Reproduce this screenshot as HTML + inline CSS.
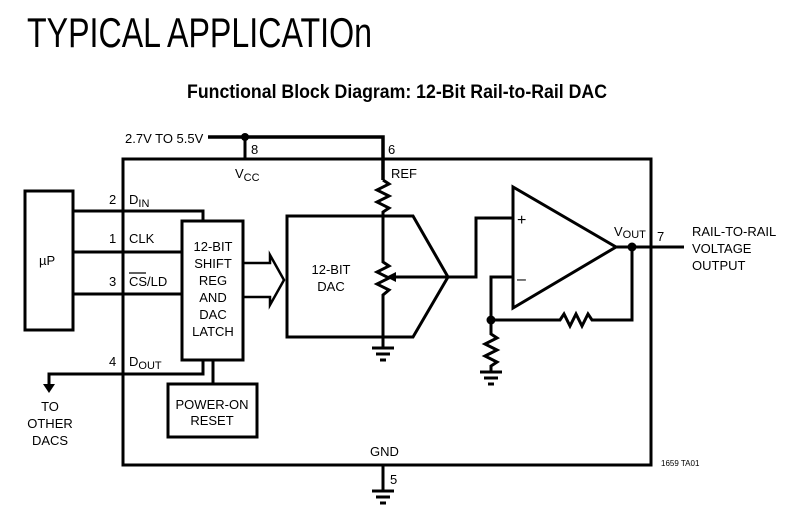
<!DOCTYPE html>
<html><head><style>
html,body{margin:0;padding:0;background:#fff;}
svg{display:block;}
text{font-family:"Liberation Sans",sans-serif;fill:#000;}
</style></head><body>
<svg width="787" height="526" viewBox="0 0 787 526" xmlns="http://www.w3.org/2000/svg">
<text x="27" y="47" font-size="42" textLength="345" lengthAdjust="spacingAndGlyphs">TYPICAL APPLICATIOn</text>
<text x="187" y="98" font-size="19" font-weight="bold" textLength="420" lengthAdjust="spacingAndGlyphs">Functional Block Diagram: 12-Bit Rail-to-Rail DAC</text>
<g stroke="#000" stroke-width="3" fill="none">
<rect x="123" y="159" width="528" height="306"/>
<polyline points="208,137 383,137 383,180" stroke-width="3.5"/>
<line x1="245" y1="137" x2="245" y2="159"/>
<rect x="25" y="191" width="48" height="139"/>
<polyline points="73,211 203,211 203,221"/>
<line x1="73" y1="252" x2="182" y2="252"/>
<line x1="73" y1="294" x2="182" y2="294"/>
<rect x="182" y="221" width="61" height="139"/>
<polyline points="203,360 203,374 49,374 49,384"/>
<line x1="213" y1="360" x2="213" y2="384"/>
<rect x="168" y="384" width="89" height="53"/>
<polyline points="243,263 270,263 270,255 284,280 270,305 270,297 243,297" stroke-width="2.5"/>
<polygon points="287,216 413,216 448,277 413,337 287,337"/>
<polyline points="383,180 389,184 377,190 389,196 377,202 389,208 383,212 383,262 389,266 377,272 389,278 377,284 389,290 383,295 383,348"/>
<line x1="372" y1="348" x2="394" y2="348"/>
<line x1="376" y1="354" x2="390" y2="354"/>
<line x1="380" y1="360" x2="386" y2="360"/>
<line x1="448" y1="277" x2="395" y2="277"/>
<polygon points="513,187 513,308 616,247"/>
<polyline points="448,277 476,277 476,218 513,218"/>
<polyline points="513,277 491,277 491,320 560,320 564,314 570,326 576,314 582,326 588,314 592,320 632,320 632,247"/>
<line x1="616" y1="247" x2="684" y2="247"/>
<polyline points="491,320 491,334 497,338 485,344 497,350 485,356 497,362 491,366 491,372"/>
<line x1="480" y1="372" x2="502" y2="372"/>
<line x1="484" y1="378" x2="498" y2="378"/>
<line x1="488" y1="384" x2="494" y2="384"/>
<line x1="383" y1="465" x2="383" y2="491"/>
<line x1="372" y1="491" x2="394" y2="491"/>
<line x1="376" y1="497" x2="390" y2="497"/>
<line x1="380" y1="503" x2="386" y2="503"/>
</g>
<polygon points="386,277 396,272 396,282" fill="#000"/>
<polygon points="43,384 55,384 49,393" fill="#000"/>
<circle cx="245" cy="137" r="4" fill="#000"/>
<circle cx="491" cy="320" r="4.5" fill="#000"/>
<circle cx="632" cy="247" r="4.5" fill="#000"/>
<g font-size="13">
<text x="125" y="143">2.7V TO 5.5V</text>
<text x="251" y="154">8</text>
<text x="388" y="154">6</text>
<text x="235" y="178">V<tspan font-size="11" dy="3">CC</tspan></text>
<text x="391" y="178">REF</text>
<text x="39" y="265">µP</text>
<text x="109" y="204">2</text>
<text x="129" y="204">D<tspan font-size="11" dy="3">IN</tspan></text>
<text x="109" y="243">1</text>
<text x="129" y="243">CLK</text>
<text x="109" y="286">3</text>
<text x="129" y="286">CS/LD</text>
<line x1="129" y1="273" x2="146" y2="273" stroke="#000" stroke-width="1.2"/>
<text x="109" y="366">4</text>
<text x="129" y="366">D<tspan font-size="11" dy="3">OUT</tspan></text>
<text x="213" y="251" text-anchor="middle">12-BIT</text>
<text x="213" y="268" text-anchor="middle">SHIFT</text>
<text x="213" y="285" text-anchor="middle">REG</text>
<text x="213" y="302" text-anchor="middle">AND</text>
<text x="213" y="319" text-anchor="middle">DAC</text>
<text x="213" y="336" text-anchor="middle">LATCH</text>
<text x="212" y="409" text-anchor="middle">POWER-ON</text>
<text x="212" y="425" text-anchor="middle">RESET</text>
<text x="331" y="274" text-anchor="middle">12-BIT</text>
<text x="331" y="291" text-anchor="middle">DAC</text>
<text x="50" y="411" text-anchor="middle">TO</text>
<text x="50" y="428" text-anchor="middle">OTHER</text>
<text x="50" y="445" text-anchor="middle">DACS</text>
<text x="517" y="225" font-size="16">+</text>
<text x="517" y="284" font-size="16">–</text>
<text x="614" y="236">V<tspan font-size="11" dy="2">OUT</tspan></text>
<text x="657" y="241">7</text>
<text x="692" y="236">RAIL-TO-RAIL</text>
<text x="692" y="253">VOLTAGE</text>
<text x="692" y="270">OUTPUT</text>
<text x="370" y="456">GND</text>
<text x="390" y="484">5</text>
</g>
<text x="661" y="466" font-size="8">1659 TA01</text>
</svg>
</body></html>
